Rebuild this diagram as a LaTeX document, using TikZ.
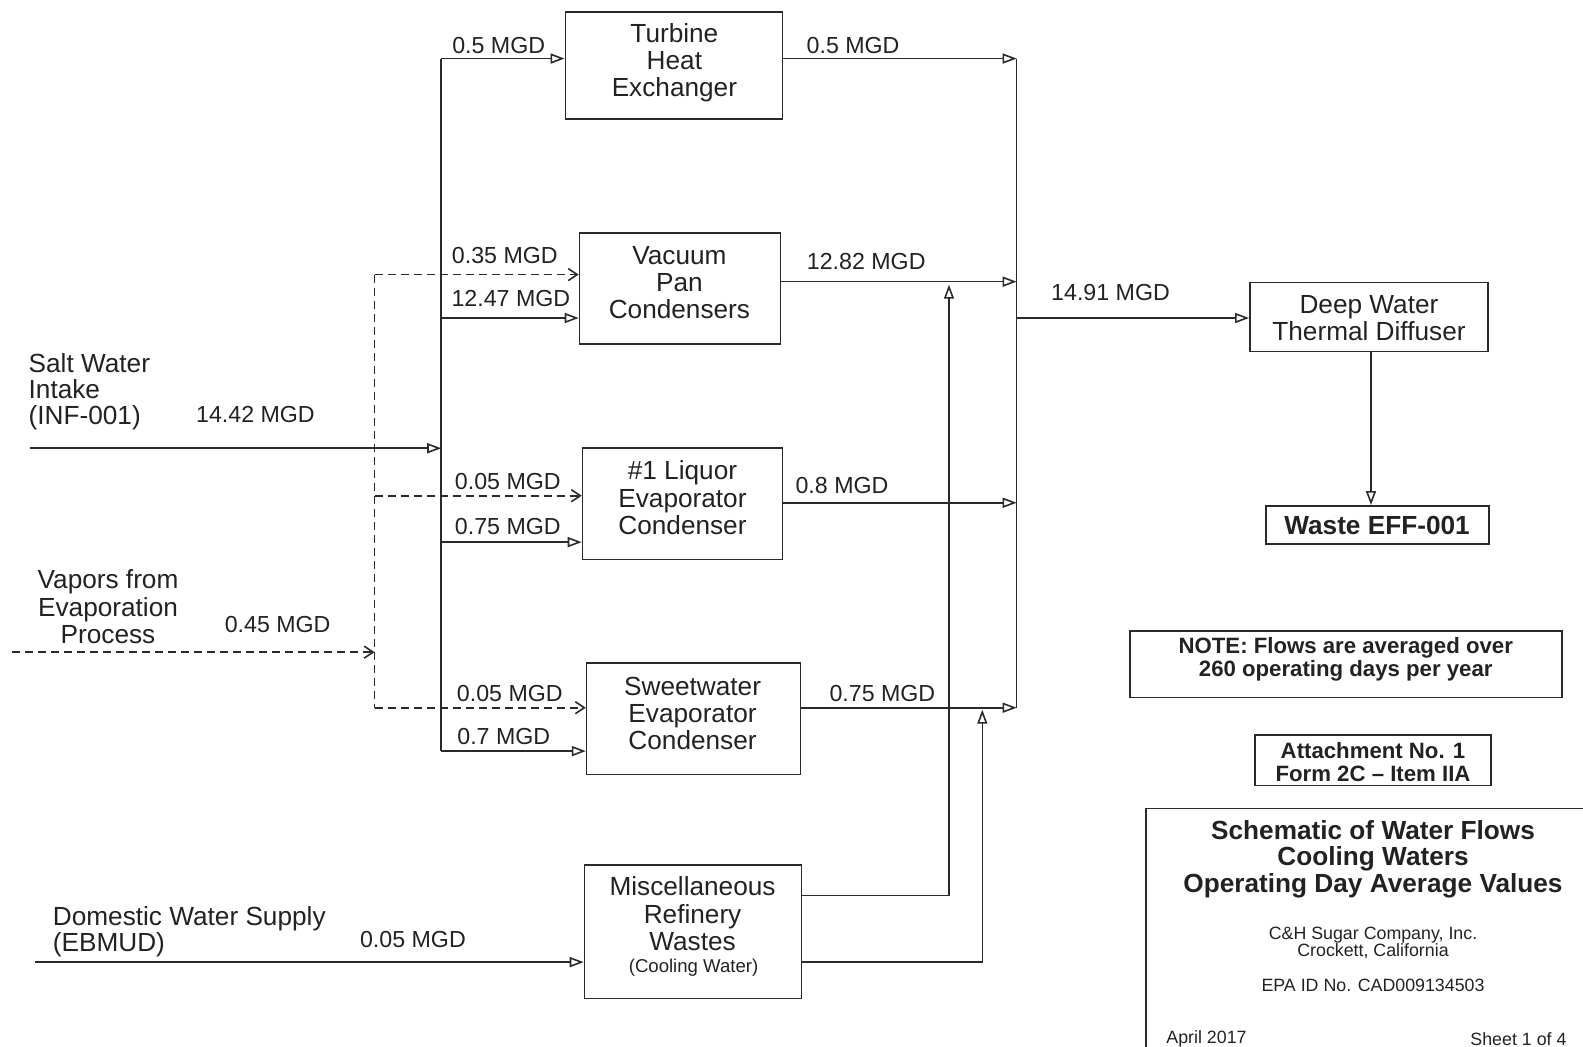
\documentclass[tikz,border=0pt]{standalone}
\usepackage{fontspec}
\setmainfont{Liberation Sans}
\usetikzlibrary{arrows.meta}
\definecolor{lc}{HTML}{2A2A2A}
\definecolor{tc}{HTML}{222222}
\newdimen\pxu \pxu=0.5048pt
\tikzset{
 ln/.style={draw=lc, line width=0.8pt},
 sarr/.style={ln, -{Triangle[open,length=7pt,width=5pt]}},
 dln/.style={ln, dash pattern=on 4pt off 2.5pt},
 darr/.style={dln, -{Straight Barb[length=4.5pt,width=6pt]}},
 box/.style={draw=lc, line width=0.8pt, inner sep=0pt},
 btxt/.style={font=\fontsize{13.1}{13.6}\selectfont, align=center, text=tc, inner sep=0pt},
 ltxt/.style={font=\fontsize{13.1}{13.2}\selectfont, align=left, text=tc, inner sep=0pt},
 flab/.style={font=\fontsize{11.6}{13}\selectfont, text=tc, inner sep=0pt},
 bold/.style={font=\fontsize{13.1}{13.4}\selectfont\bfseries, align=center, text=tc, inner sep=0pt},
 nbold/.style={font=\fontsize{11.1}{11.6}\selectfont\bfseries, align=center, text=tc, inner sep=0pt},
 small/.style={font=\fontsize{8.9}{8.6}\selectfont, align=center, text=tc, inner sep=0pt},
}
\begin{document}
\begin{tikzpicture}[x=0.5048pt, y=-0.5048pt]
\useasboundingbox (0,0) rectangle (1568,1037);
% boxes
\node[box, minimum width=215\pxu, minimum height=106\pxu] (tur) at (667.5,65) {};
\node[btxt] (turT) at (668,62) {Turbine\\Heat\\Exchanger};
\node[box, minimum width=199\pxu, minimum height=110\pxu] (vac) at (673.5,286) {};
\node[btxt] (vacT) at (673,280) {Vacuum\\Pan\\Condensers};
\node[box, minimum width=198\pxu, minimum height=110\pxu] (liq) at (676,499) {};
\node[btxt] (liqT) at (676,493) {\#1 Liquor\\Evaporator\\Condenser};
\node[box, minimum width=212\pxu, minimum height=110\pxu] (swt) at (687,712) {};
\node[btxt] (swtT) at (686,707) {Sweetwater\\Evaporator\\Condenser};
\node[box, minimum width=215\pxu, minimum height=132\pxu] (misc) at (686.5,923) {};
\node[btxt] (miscT) at (686,905) {Miscellaneous\\Refinery\\Wastes};
\node[small, font=\fontsize{9.3}{10}\selectfont] (miscC) at (687,959) {(Cooling Water)};
\node[box, minimum width=236\pxu, minimum height=68\pxu] (deep) at (1356,314) {};
\node[btxt] (deepT) at (1356,315) {Deep Water\\Thermal Diffuser};
\node[box, minimum width=221\pxu, minimum height=38\pxu] (waste) at (1364.5,520) {};
\node[bold] (wasteT) at (1364,520) {Waste EFF-001};
\node[box, minimum width=428\pxu, minimum height=66\pxu] (note) at (1333,658) {};
\node[nbold] (noteT) at (1333,653) {NOTE: Flows are averaged over\\260 operating days per year};
\node[box, minimum width=234\pxu, minimum height=50\pxu] (att) at (1360,753) {};
\node[nbold] (attT) at (1360,755) {Attachment No. 1\\Form 2C -- Item IIA};
% title block
\coordinate (tbR) at (1568,801);
\coordinate (tbC) at (1135,801);
\coordinate (tbB) at (1135,1037);
\draw[ln] (tbR) -- (tbC) -- (tbB);
\node[bold] (title) at (1360,851) {Schematic of Water Flows\\Cooling Waters\\Operating Day Average Values};
\node[small] (comp) at (1360,934) {C\&H Sugar Company, Inc.\\Crockett, California};
\node[small] (epa) at (1360,976) {EPA ID No. CAD009134503};
\node[small, anchor=west] (date) at (1155,1029) {April 2017};
\node[small, anchor=east] (sheet) at (1552,1029) {Sheet 1 of 4};
% left labels
\node[ltxt, anchor=west] (salt) at (28,388) {Salt Water\\Intake\\(INF-001)};
\node[btxt] (vap) at (107,601) {Vapors from\\Evaporation\\Process};
\node[ltxt, anchor=west] (dom) at (52,923) {Domestic Water Supply\\ (EBMUD)};
% coordinates
\coordinate (sIn) at (30,444);
\coordinate (tIn) at (437,444);
\coordinate (tA) at (437,58);
\coordinate (tB) at (437,315);
\coordinate (tC) at (437,537);
\coordinate (tD) at (437,744);
\coordinate (vIn) at (12,646);
\coordinate (dIn) at (371,646);
\coordinate (dA) at (371,272);
\coordinate (dB) at (371,491);
\coordinate (dC) at (371,701);
\coordinate (domIn) at (35,953);
\coordinate (cA) at (1007,58);
\coordinate (cB) at (1007,279);
\coordinate (cC) at (1007,498);
\coordinate (cD) at (1007,701);
\coordinate (cOut) at (1007,315);
\coordinate (mo1) at (794,887);
\coordinate (m1) at (940,282);
\coordinate (mo2) at (794,953);
\coordinate (m2) at (973,703);
% solid supply
\draw[ln] (tA) -- (tD);
\draw[sarr] (sIn) -- (tIn);
\draw[sarr] (tA) -- (tA -| tur.west);
\draw[sarr] (tB) -- (tB -| vac.west);
\draw[sarr] (tC) -- (tC -| liq.west);
\draw[sarr] (tD) -- (tD -| swt.west);
% dashed supply
\draw[dln] (dA) -- (dC);
\draw[darr] (vIn) -- (dIn);
\draw[darr] (dA) -- (dA -| vac.west);
\draw[darr] (dB) -- (dB -| liq.west);
\draw[darr] (dC) -- (dC -| swt.west);
% domestic
\draw[sarr] (domIn) -- (domIn -| misc.west);
% outputs
\draw[sarr] (cA -| tur.east) -- (cA);
\draw[sarr] (cB -| vac.east) -- (cB);
\draw[sarr] (cC -| liq.east) -- (cC);
\draw[sarr] (cD -| swt.east) -- (cD);
\draw[ln] (cA) -- (cD);
\draw[sarr] (mo1) -| (m1);
\draw[sarr] (mo2) -| (m2);
\draw[sarr] (cOut) -- (cOut -| deep.west);
\draw[sarr] (deep.south -| 1358,0) -- (waste.north -| 1358,0);
% flow labels
\node[flab] (l1) at (494,45) {0.5 MGD};
\node[flab] (l2) at (500,253) {0.35 MGD};
\node[flab] (l3) at (506,296) {12.47 MGD};
\node[flab] (l4) at (503,477) {0.05 MGD};
\node[flab] (l5) at (503,522) {0.75 MGD};
\node[flab] (l6) at (505,687) {0.05 MGD};
\node[flab] (l7) at (499,730) {0.7 MGD};
\node[flab] (l8) at (253,411) {14.42 MGD};
\node[flab] (l9) at (275,619) {0.45 MGD};
\node[flab] (l10) at (409,931) {0.05 MGD};
\node[flab] (l11) at (845,45) {0.5 MGD};
\node[flab] (l12) at (858,259) {12.82 MGD};
\node[flab] (l13) at (834,481) {0.8 MGD};
\node[flab] (l14) at (874,687) {0.75 MGD};
\node[flab] (l15) at (1100,290) {14.91 MGD};
\end{tikzpicture}
\end{document}
